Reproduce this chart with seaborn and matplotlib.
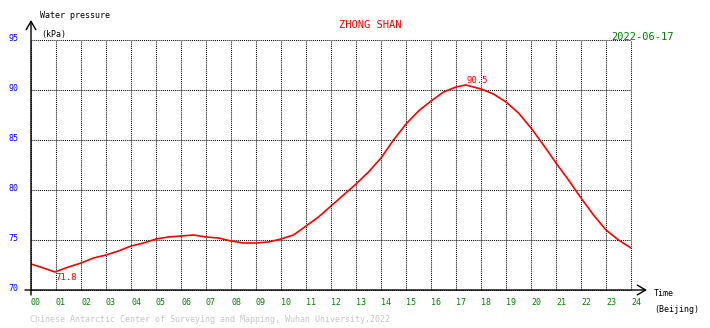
import matplotlib
matplotlib.use("Agg")
import matplotlib.pyplot as plt
import matplotlib.transforms as mtransforms
import seaborn as sns
import pandas as pd

# Hour of day (Beijing time) and water pressure readings in kPa
hours = [0, 0.5, 0.95, 1.5, 2, 2.5, 3, 3.5, 4, 4.5, 5, 5.5, 6, 6.5, 7, 7.5,
         8, 8.5, 9, 9.5, 10, 10.5, 11, 11.5, 12, 12.5, 13, 13.5, 14, 14.5,
         15, 15.5, 16, 16.5, 17, 17.4, 18, 18.5, 19, 19.5, 20, 20.5, 21,
         21.5, 22, 22.5, 23, 23.5, 24]
pressure = [72.6, 72.2, 71.8, 72.3, 72.7, 73.2, 73.5, 73.9, 74.4, 74.7,
            75.1, 75.3, 75.4, 75.5, 75.3, 75.2, 74.9, 74.7, 74.7, 74.8,
            75.1, 75.5, 76.4, 77.3, 78.4, 79.5, 80.6, 81.8, 83.2, 85.0,
            86.6, 87.9, 88.9, 89.8, 90.3, 90.5, 90.1, 89.6, 88.8, 87.7,
            86.2, 84.5, 82.7, 81.0, 79.2, 77.5, 76.0, 75.0, 74.2]

x_ticks = list(range(0, 25))
x_tick_labels = [f"{h:02d}" for h in x_ticks]
y_ticks = [70, 75, 80, 85, 90, 95]

station = "ZHONG SHAN"
date_label = "2022-06-17"
credit = "Chinese Antarctic Center of Surveying and Mapping, Wuhan University,2022"

sns.set_style("white")
plt.rcParams["font.family"] = ["DejaVu Sans Mono", "DejaVu Sans"]

W, H = 710, 328
fig = plt.figure(figsize=(W / 100, H / 100), dpi=100)
fig.patch.set_facecolor("white")

# axes box in pixels: x 31..631, y 40..290 (from top)
ax = fig.add_axes([31 / W, 1 - 290 / H, 600 / W, 250 / H])
ax.set_facecolor("white")

df = pd.DataFrame({"hour": hours, "kPa": pressure})
sns.lineplot(data=df, x="hour", y="kPa", ax=ax, color="#ff0000",
             linewidth=1.2, zorder=3)

ax.set_xlim(0, 24)
ax.set_ylim(70, 95)
ax.set_xlabel("")
ax.set_ylabel("")
for s in ax.spines.values():
    s.set_visible(False)

ax.set_xticks(x_ticks)
ax.set_xticklabels(x_tick_labels, fontsize=6, color="#008000", ha="left")
ax.set_yticks(y_ticks)
ax.set_yticklabels([str(v) for v in y_ticks], fontsize=6, color="#0000ff")
ax.tick_params(axis="x", length=0, pad=6)
ax.tick_params(axis="y", length=0, pad=9)
up = mtransforms.ScaledTranslation(0, 3 / 100, fig.dpi_scale_trans)
for lab in ax.get_yticklabels():
    lab.set_transform(lab.get_transform() + up)

ax.grid(True, color="black", linestyle=(0, (1, 1)), linewidth=0.75)
for gl in ax.get_xgridlines() + ax.get_ygridlines():
    gl.set_clip_on(False)

# axis lines with open arrowheads
arrow = dict(arrowstyle="->,head_length=0.6,head_width=0.35", lw=1.0,
             color="black", mutation_scale=10, shrinkA=0, shrinkB=0)
ax.annotate("", xy=(31, H - 20), xytext=(31, H - 295),
            xycoords="figure pixels", textcoords="figure pixels",
            arrowprops=arrow, annotation_clip=False)
ax.annotate("", xy=(647, H - 290), xytext=(25, H - 290),
            xycoords="figure pixels", textcoords="figure pixels",
            arrowprops=arrow, annotation_clip=False)

# min / max annotations
i_min = pressure.index(min(pressure))
i_max = pressure.index(max(pressure))
ax.annotate(f"{pressure[i_min]:.1f}", xy=(hours[i_min], pressure[i_min]),
            xytext=(1, -5), textcoords="offset pixels", ha="left",
            va="center", fontsize=6.5, color="#ff0000")
ax.annotate(f"{pressure[i_max]:.1f}", xy=(hours[i_max], pressure[i_max]),
            xytext=(1, 5), textcoords="offset pixels", ha="left",
            va="center", fontsize=6.5, color="#ff0000")


def px_text(x, y, s, **kw):
    fig.text(x / W, 1 - y / H, s, ha="left", va="center", **kw)


px_text(40, 16, "Water pressure", fontsize=6, color="black")
px_text(41, 34, "(kPa)", fontsize=6, color="black")
px_text(339, 25, station, fontsize=7.5, color="#ff0000")
px_text(611, 36.5, date_label, fontsize=7.5, color="#008000")
px_text(654, 294, "Time", fontsize=6, color="black")
px_text(654, 310, "(Beijing)", fontsize=6, color="black")
px_text(30, 320, credit, fontsize=6, color="#c8c8c8")

fig.savefig("out.png", dpi=100, facecolor="white")
